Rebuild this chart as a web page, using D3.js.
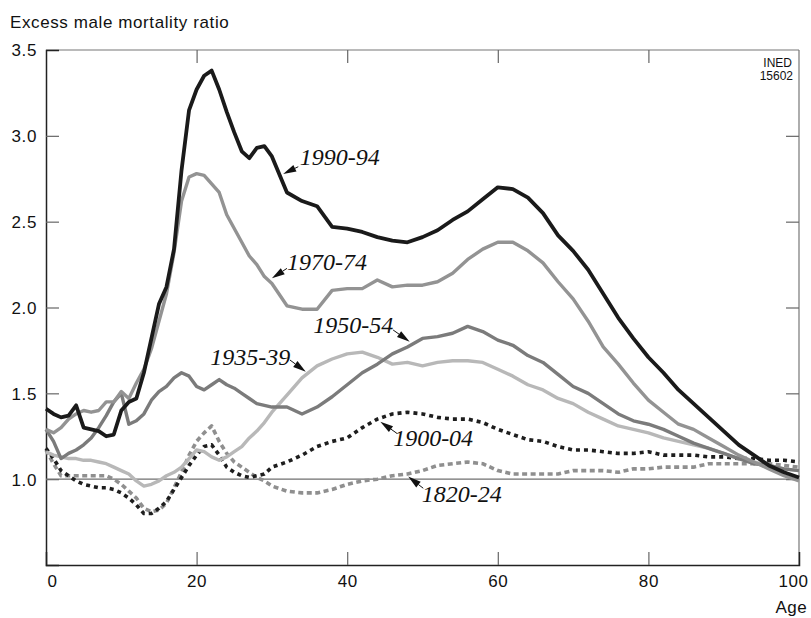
<!DOCTYPE html>
<html><head><meta charset="utf-8">
<script src="https://cdn.jsdelivr.net/npm/d3@7"></script>
<style>
html,body{margin:0;padding:0;background:#fff;}
svg{display:block;}
</style></head>
<body>
<svg id="chart" width="811" height="618"></svg>
<script>
// ---- data ----
const ages = [0,1,2,3,4,5,6,7,8,9,10,11,12,13,14,15,16,17,18,19,20,21,22,23,24,25,26,27,28,29,30,
  32,34,36,38,40,42,44,46,48,50,52,54,56,58,60,62,64,66,68,70,72,74,76,78,80,82,84,86,88,90,92,94,96,98,100];

const s1990 = [1.41,1.38,1.36,1.37,1.43,1.30,1.29,1.28,1.25,1.26,1.40,1.45,1.47,1.62,1.82,2.02,2.12,2.34,2.80,3.15,3.27,3.35,3.38,3.27,3.14,3.02,2.91,2.87,2.93,2.94,2.88,
  2.67,2.62,2.59,2.47,2.46,2.44,2.41,2.39,2.38,2.41,2.45,2.51,2.56,2.63,2.70,2.69,2.64,2.55,2.42,2.33,2.22,2.08,1.94,1.82,1.71,1.62,1.52,1.44,1.36,1.28,1.20,1.14,1.08,1.04,1.01];
const s1970 = [1.29,1.27,1.30,1.35,1.38,1.40,1.39,1.40,1.45,1.45,1.51,1.47,1.56,1.64,1.76,1.92,2.08,2.32,2.62,2.76,2.78,2.77,2.72,2.67,2.54,2.46,2.38,2.30,2.25,2.18,2.14,
  2.01,1.99,1.99,2.10,2.11,2.11,2.16,2.12,2.13,2.13,2.15,2.20,2.28,2.34,2.38,2.38,2.33,2.26,2.15,2.05,1.92,1.77,1.67,1.56,1.46,1.39,1.32,1.29,1.24,1.19,1.14,1.10,1.06,1.02,0.99];
const s1950 = [1.29,1.22,1.12,1.15,1.17,1.20,1.24,1.30,1.37,1.45,1.50,1.32,1.34,1.38,1.46,1.51,1.54,1.59,1.62,1.60,1.54,1.52,1.55,1.58,1.55,1.53,1.50,1.47,1.44,1.43,1.42,
  1.42,1.38,1.42,1.48,1.55,1.62,1.67,1.73,1.77,1.82,1.83,1.85,1.89,1.86,1.81,1.78,1.72,1.68,1.61,1.54,1.50,1.44,1.38,1.34,1.32,1.29,1.25,1.21,1.18,1.15,1.12,1.09,1.08,1.06,1.05];
const s1935 = [1.16,1.14,1.13,1.12,1.12,1.11,1.11,1.10,1.09,1.07,1.05,1.03,0.99,0.96,0.97,0.99,1.02,1.04,1.07,1.12,1.17,1.16,1.13,1.11,1.13,1.16,1.19,1.24,1.28,1.33,1.39,
  1.49,1.59,1.66,1.70,1.73,1.74,1.71,1.67,1.68,1.66,1.68,1.69,1.69,1.68,1.64,1.60,1.55,1.52,1.47,1.44,1.39,1.35,1.31,1.29,1.27,1.24,1.22,1.20,1.18,1.15,1.12,1.10,1.08,1.06,1.05];
const s1900 = [1.18,1.12,1.05,1.02,0.99,0.97,0.96,0.95,0.95,0.94,0.92,0.89,0.85,0.80,0.80,0.83,0.87,0.94,1.01,1.08,1.14,1.19,1.20,1.14,1.07,1.04,1.02,1.01,1.02,1.03,1.07,
  1.10,1.14,1.19,1.22,1.24,1.30,1.35,1.38,1.39,1.38,1.36,1.35,1.35,1.33,1.29,1.26,1.23,1.22,1.19,1.17,1.17,1.16,1.15,1.15,1.16,1.14,1.14,1.14,1.13,1.13,1.12,1.12,1.11,1.11,1.10];
const s1820 = [1.17,1.09,1.02,1.02,1.02,1.02,1.02,1.02,1.02,1.00,0.97,0.93,0.89,0.83,0.81,0.82,0.86,0.95,1.04,1.14,1.22,1.27,1.31,1.22,1.15,1.10,1.07,1.04,1.01,0.99,0.96,
  0.93,0.92,0.92,0.94,0.97,0.99,1.00,1.02,1.03,1.05,1.08,1.09,1.10,1.09,1.05,1.03,1.03,1.03,1.03,1.05,1.05,1.05,1.04,1.06,1.06,1.07,1.07,1.07,1.09,1.09,1.09,1.09,1.09,1.08,1.07];

const seriesNames = ["1820-24","1900-04","1935-39","1950-54","1970-74","1990-94"];
const seriesValues = [s1820, s1900, s1935, s1950, s1970, s1990];

const xTicks = [0,20,40,60,80,100];
const yTicks = [1.0,1.5,2.0,2.5,3.0,3.5];

// label anchor (age, ratio), arrow back (age, ratio), arrow tip (age, ratio)
const labelPos = [[49.9,0.869],[46.1,1.193],[21.8,1.665],[35.5,1.850],[32.0,2.218],[33.7,2.830]];
const arrowBack = [[50.1,0.947],[46.6,1.267],[32.4,1.694],[46.1,1.869],[32.0,2.228],[33.5,2.820]];
const arrowTip  = [[48.1,1.015],[44.4,1.335],[34.5,1.626],[48.3,1.801],[30.0,2.170],[31.5,2.778]];

// ---- styles ----
const colors = ["#8f8f8f","#1e1e1e","#b8b8b8","#7b7b7b","#939393","#1a1a1a"];
const widths = [3.6,3.6,3.4,3.4,3.4,3.8];
const dashes = ["5,3.5","4,4",null,null,null,null];

const svg = d3.select("#chart");
const W = 811, H = 618;
const m = {left:46, top:50, right:12, bottom:53};
const x = d3.scaleLinear().domain([0,100]).range([m.left, W - m.right]);
const y = d3.scaleLinear().domain([0.5,3.5]).range([H - m.bottom, m.top]);

const sans = "'Liberation Sans', Arial, Helvetica, sans-serif";

// frame: top & right lighter
svg.append("line").attr("x1",x(0)).attr("x2",x(100)).attr("y1",y(3.5)).attr("y2",y(3.5))
  .attr("stroke","#777").attr("stroke-width",1.2);
svg.append("line").attr("x1",x(100)).attr("x2",x(100)).attr("y1",y(3.5)).attr("y2",y(0.5))
  .attr("stroke","#777").attr("stroke-width",1.2);

// axes with inward ticks
const gB = svg.append("g").attr("transform",`translate(0,${y(0.5)})`)
  .call(d3.axisBottom(x).tickValues(xTicks).tickSize(-13).tickPadding(22).tickFormat(d3.format("d")));
const gL = svg.append("g").attr("transform",`translate(${x(0)},0)`)
  .call(d3.axisLeft(y).tickValues(yTicks).tickSize(-13).tickPadding(22).tickFormat(d3.format(".1f")));
const gT = svg.append("g").attr("transform",`translate(0,${y(3.5)})`)
  .call(d3.axisTop(x).tickValues(xTicks).tickSize(-13).tickFormat(""));
const gR = svg.append("g").attr("transform",`translate(${x(100)},0)`)
  .call(d3.axisRight(y).tickValues(yTicks).tickSize(-13).tickFormat(""));

[gB,gL].forEach(g=>{
  g.select(".domain").attr("stroke","#222").attr("stroke-width",1.5);
  g.selectAll(".tick line").attr("stroke","#666").attr("stroke-width",1.2);
  g.selectAll(".tick text").attr("font-family",sans).attr("font-size",17).attr("fill","#111").attr("letter-spacing","0.6px");
});
[gT,gR].forEach(g=>{
  g.select(".domain").remove();
  g.selectAll(".tick line").attr("stroke","#666").attr("stroke-width",1.2);
});
// hide corner ticks
gB.selectAll(".tick").filter(d=>d===0||d===100).select("line").remove();
gT.selectAll(".tick").filter(d=>d===0||d===100).select("line").remove();
gL.selectAll(".tick").filter(d=>d===3.5).select("line").remove();
gR.selectAll(".tick").filter(d=>d===3.5).select("line").remove();
gL.selectAll(".tick text").attr("x",-9).attr("dy","0.35em");
gB.selectAll(".tick text").attr("dy","0.71em").attr("y",10)
  .attr("dx",d=> d===0 ? 6 : (d===100 ? -6 : 0));

// reference line at 1.0
svg.append("line").attr("x1",x(0)).attr("x2",x(100)).attr("y1",y(1)).attr("y2",y(1))
  .attr("stroke","#6f6f6f").attr("stroke-width",1.2);

// series lines
const line = d3.line().x((d,i)=>x(ages[i])).y(d=>y(d));
seriesValues.forEach((vals,k)=>{
  const p = svg.append("path").datum(vals).attr("d",line)
    .attr("fill","none").attr("stroke",colors[k]).attr("stroke-width",widths[k])
    .attr("stroke-linejoin","round");
  if (dashes[k]) p.attr("stroke-dasharray",dashes[k]).attr("stroke-linecap","butt");
});

// labels + arrowheads
seriesNames.forEach((name,k)=>{
  svg.append("text").attr("x",x(labelPos[k][0])).attr("y",y(labelPos[k][1]))
    .attr("font-family","'Liberation Serif','Times New Roman',serif")
    .attr("font-style","italic").attr("font-size",24).attr("fill","#111").text(name);
  const bx = x(arrowBack[k][0]), by = y(arrowBack[k][1]);
  const tx = x(arrowTip[k][0]), ty = y(arrowTip[k][1]);
  const dx = tx-bx, dy = ty-by, L = Math.hypot(dx,dy);
  const ux = dx/L, uy = dy/L, px = -uy, py = ux;
  const hw = 3.6;
  const bx2 = tx - ux*Math.min(L,13), by2 = ty - uy*Math.min(L,13);
  svg.append("line").attr("x1",bx).attr("y1",by).attr("x2",bx2).attr("y2",by2)
    .attr("stroke","#111").attr("stroke-width",1);
  svg.append("path").attr("d",`M${tx},${ty}L${bx2+px*hw},${by2+py*hw}L${bx2-px*hw},${by2-py*hw}Z`)
    .attr("fill","#111");
});

// titles
svg.append("text").attr("x",10).attr("y",28).attr("font-family",sans).attr("font-size",17)
  .attr("letter-spacing","0.6px").attr("fill","#111").text("Excess male mortality ratio");
svg.append("text").attr("x",807).attr("y",613).attr("text-anchor","end").attr("font-family",sans)
  .attr("font-size",17).attr("letter-spacing","0.4px").attr("fill","#111").text("Age");
const ined = svg.append("text").attr("text-anchor","end")
  .attr("font-family","'Liberation Sans Narrow','Arial Narrow',sans-serif").attr("font-size",12).attr("fill","#111");
ined.append("tspan").attr("x",792).attr("y",66.5).text("INED");
ined.append("tspan").attr("x",793).attr("y",80).text("15602");
</script>
</body></html>
